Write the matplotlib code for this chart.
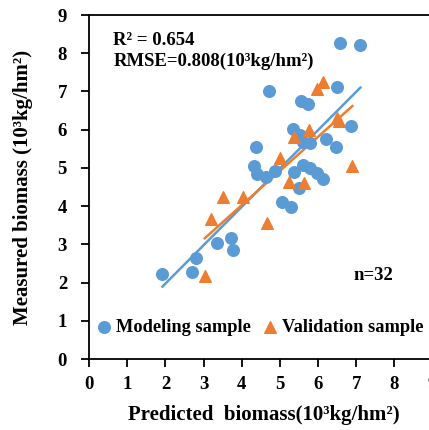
import numpy as np
import matplotlib
matplotlib.use("Agg")
import matplotlib.pyplot as plt

plt.rcParams['font.family'] = ['Liberation Serif', 'DejaVu Serif']
plt.rcParams['font.weight'] = 'bold'

# modeling sample (predicted, measured)
model_pred = [6.58, 7.11, 4.72, 6.51, 5.56, 5.75, 6.87, 5.34, 5.53, 5.60, 5.79,
              6.21, 6.46, 4.38, 4.33, 4.39, 4.64, 4.86, 5.38, 5.60, 5.79, 5.97,
              6.13, 5.49, 5.05, 5.29, 1.92, 2.80, 2.70, 3.34, 3.72, 3.76]
model_meas = [8.26, 8.22, 7.02, 7.13, 6.74, 6.68, 6.10, 6.02, 5.86, 5.69, 5.66,
              5.75, 5.54, 5.54, 5.06, 4.83, 4.77, 4.93, 4.90, 5.08, 4.99, 4.88,
              4.70, 4.47, 4.12, 3.97, 2.22, 2.65, 2.29, 3.03, 3.18, 2.84]

# validation sample
valid_pred = [6.14, 5.98, 6.51, 6.56, 5.76, 5.36, 4.99, 6.90, 5.25, 5.64,
              4.04, 3.52, 3.20, 4.66, 3.03]
valid_meas = [7.26, 7.06, 6.30, 6.22, 5.99, 5.80, 5.27, 5.06, 4.64, 4.60,
              4.25, 4.25, 3.67, 3.55, 2.17]

blue = '#5B9BD5'
orange = '#ED7D31'

fig = plt.figure(figsize=(4.29, 4.30), dpi=100)
ax = fig.add_axes([0.208, 0.165, 0.80, 0.80])

ax.scatter(model_pred, model_meas, s=70, color=blue, label='Modeling sample', zorder=3)
ax.scatter(valid_pred, valid_meas, s=70, marker='^', color=orange, label='Validation sample', zorder=3)

# linear trend lines
for xs, ys, c in [(model_pred, model_meas, blue), (valid_pred, valid_meas, orange)]:
    k, b = np.polyfit(xs, ys, 1)
    xx = np.array([min(xs), max(xs)])
    ax.plot(xx, k * xx + b, color=c, lw=1.8, zorder=2)

ax.set_xlim(0, 9)
ax.set_ylim(0, 9)
ax.set_xticks(range(10))
ax.set_yticks(range(10))
ax.tick_params(direction='out', length=6, width=1.3, labelsize=13.5)
ax.tick_params(axis='x', pad=6)
ax.tick_params(axis='y', pad=10)
for lab in ax.get_xticklabels() + ax.get_yticklabels():
    lab.set_fontweight('bold')
for sp in ax.spines.values():
    sp.set_linewidth(1.3)

ax.set_xlabel('Predicted  biomass(10³kg/hm²)', fontsize=15, fontweight='bold')
ax.set_ylabel('Measured biomass (10³kg/hm²)', fontsize=15, fontweight='bold')
ax.xaxis.set_label_coords(0.51, -0.135)
ax.yaxis.set_label_coords(-0.165, 0.5)

ax.text(0.07, 0.95, 'R² = 0.654', transform=ax.transAxes, fontsize=13.5,
        fontweight='bold', va='top')
ax.text(0.07, 0.89, 'RMSE=0.808(10³kg/hm²)', transform=ax.transAxes, fontsize=13.5,
        fontweight='bold', va='top')
ax.text(0.77, 0.244, 'n=32', transform=ax.transAxes, fontsize=13.5,
        fontweight='bold', va='center')

ax.legend(loc='center left', bbox_to_anchor=(-0.02, 0.093), ncol=2, frameon=False,
          handlelength=1.0, handletextpad=0.15, columnspacing=0.55, borderpad=0.2,
          prop={'size': 13.2, 'weight': 'bold'})

fig.savefig('out.png', dpi=100)
